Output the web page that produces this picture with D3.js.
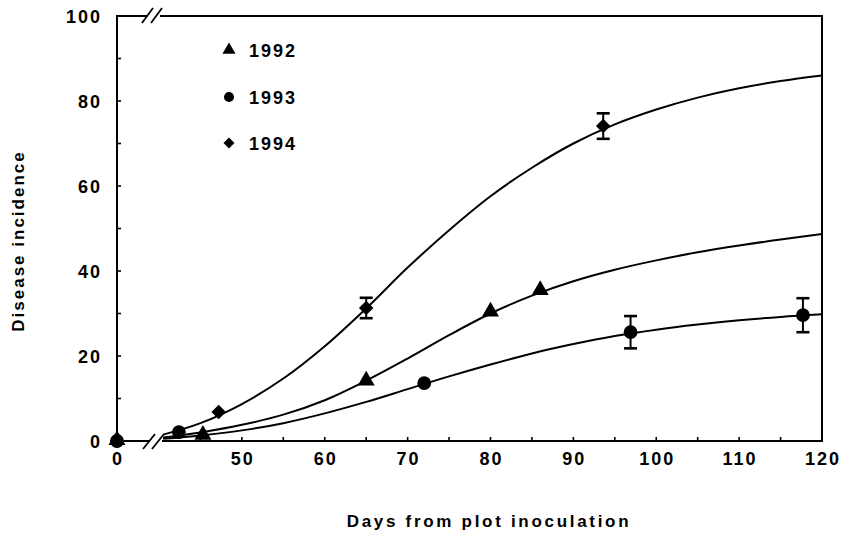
<!DOCTYPE html>
<html><head><meta charset="utf-8">
<script src="https://cdn.jsdelivr.net/npm/d3@7"></script>
<style>
html,body{margin:0;padding:0;background:#fff;}
text{font-family:"Liberation Sans",Arial,sans-serif;font-weight:bold;fill:#000;}
</style></head>
<body><svg id="c" width="843" height="541"></svg>
<script>
// ---- data ----
const xTickLabels = [0, 50, 60, 70, 80, 90, 100, 110, 120];
const xMinorTicks = [45, 50, 55, 60, 65, 70, 75, 80, 85, 90, 95, 100, 105, 110, 115];
const yTickLabels = [0, 20, 40, 60, 80, 100];
const yMinorTicks = [10, 20, 30, 40, 50, 60, 70, 80, 90];
const seriesNames = ["1992", "1993", "1994"];

// observed points [day, incidence, error]
const obs1992 = [[0,0,0],[45.3,1.2,0],[65,14,0],[80,30.2,0],[86,35.3,0]];
const obs1993 = [[0,0,0],[42.4,2.1,0],[72,13.6,0],[96.9,25.6,3.8],[117.7,29.6,4]];
const obs1994 = [[0,0,0],[47.2,6.8,0],[65,31.3,2.4],[93.6,74.1,3]];

// fitted curves [day, incidence]
const fit1992 = [[40.5,0.8],[45,2],[50,3.8],[55,6.2],[60,9.6],[65,14.2],[70,19.4],[75,24.9],[80,30],[85,34.2],[90,37.6],[95,40.3],[100,42.5],[105,44.4],[110,46],[115,47.4],[120,48.7]];
const fit1993 = [[40.5,0.5],[45,1.3],[50,2.5],[55,4.2],[60,6.5],[65,9.2],[70,12.2],[75,15.2],[80,18],[85,20.6],[90,22.8],[95,24.7],[100,26.2],[105,27.4],[110,28.4],[115,29.2],[120,29.8]];
const fit1994 = [[40.5,1.5],[45,4.2],[50,8.7],[55,14.7],[60,22.3],[65,31.2],[70,40.8],[75,49.6],[80,57.6],[85,64.3],[90,70],[95,74.5],[100,78],[105,80.8],[110,83],[115,84.7],[120,86]];

// ---- drawing ----
const svg = d3.select("#c");
const x = d3.scaleLinear().domain([0, 40, 120]).range([117, 159, 822]);
const y = d3.scaleLinear().domain([0, 100]).range([441, 16]);
const X0 = x(0), X1 = x(120), Y0 = y(0), Y1 = y(100);
const sw = 2;

const g = svg.append("g");
function seg(x1,y1,x2,y2,w){g.append("line").attr("x1",x1).attr("y1",y1).attr("x2",x2).attr("y2",y2).attr("stroke","#000").attr("stroke-width",w||sw);}
seg(X0, Y1-1, X0, Y0+1);
seg(X1, Y1-1, X1, Y0+1);
seg(X0-1, Y0, 150, Y0);
seg(162, Y0, X1+1, Y0);
seg(X0-1, Y1, 148, Y1);
seg(160, Y1, X1+1, Y1);
seg(143, Y0+8, 155, Y0-7, 1.8); seg(152, Y0+8, 164, Y0-7, 1.8);
seg(142, Y1+7, 153, Y1-8, 1.8); seg(151, Y1+7, 162, Y1-8, 1.8);

xMinorTicks.forEach(d => seg(x(d), Y0, x(d), Y0-4, 1.6));
yMinorTicks.forEach(d => seg(X0, y(d), X0+4, y(d), 1.6));

g.selectAll(".xl").data(xTickLabels).enter().append("text")
  .attr("x", d => x(d) + 1).attr("y", 465).attr("text-anchor","middle")
  .attr("font-size", 18).style("letter-spacing","2px").text(d => d);
g.selectAll(".yl").data(yTickLabels).enter().append("text")
  .attr("x", 102).attr("y", d => y(d) + 7).attr("text-anchor","end")
  .attr("font-size", 18).style("letter-spacing","2px").text(d => d);

svg.append("text").attr("x", 489).attr("y", 527).attr("text-anchor","middle")
  .attr("font-size", 17).style("letter-spacing","2.7px").text("Days from plot inoculation");
svg.append("text").attr("transform","translate(24,241) rotate(-90)").attr("text-anchor","middle")
  .attr("font-size", 17).style("letter-spacing","2px").text("Disease incidence");

const line = d3.line().x(d => x(d[0])).y(d => y(d[1])).curve(d3.curveCatmullRom.alpha(0.5));
[fit1992, fit1993, fit1994].forEach(f => {
  g.append("path").attr("d", line(f)).attr("fill","none").attr("stroke","#000").attr("stroke-width", 2);
});

const symTri = d3.symbol().type(d3.symbolTriangle);
const symCir = d3.symbol().type(d3.symbolCircle);
const symSq = d3.symbol().type(d3.symbolSquare);
function errBars(data){
  data.filter(d => d[2] > 0).forEach(d => {
    const cx = x(d[0]);
    seg(cx, y(d[1]+d[2]), cx, y(d[1]-d[2]), 2);
    seg(cx-6.5, y(d[1]+d[2]), cx+6.5, y(d[1]+d[2]), 2.6);
    seg(cx-6.5, y(d[1]-d[2]), cx+6.5, y(d[1]-d[2]), 2.6);
  });
}
errBars(obs1993); errBars(obs1994);
function marks(data, sym, size, rot, dy){
  g.selectAll(null).data(data).enter().append("path")
    .attr("d", sym.size(size)())
    .attr("transform", d => `translate(${x(d[0])},${y(d[1]) + (dy||0)}) rotate(${rot})`)
    .attr("fill","#000");
}
marks(obs1992, symTri, 125, 0, -1);
marks(obs1993, symCir, 150, 0);
marks(obs1994, symSq, 105, 45);

const legY = [50, 97, 143];
const legSym = [symTri.size(75)(), symCir.size(80)(), symSq.size(60)()];
const legRot = [0, 0, 45];
seriesNames.forEach((n, i) => {
  svg.append("path").attr("d", legSym[i]).attr("transform", `translate(229,${legY[i]}) rotate(${legRot[i]})`).attr("fill","#000");
  svg.append("text").attr("x", 249).attr("y", legY[i] + 7).attr("font-size", 18)
    .style("letter-spacing","2px").text(n);
});
</script></body></html>
